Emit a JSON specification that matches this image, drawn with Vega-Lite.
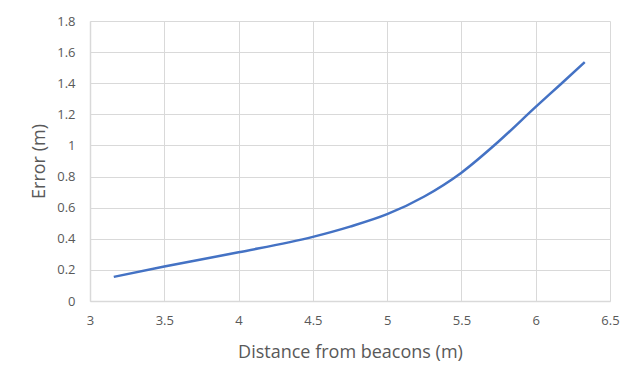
{
  "$schema": "https://vega.github.io/schema/vega-lite/v6.json",
  "width": 520,
  "height": 280,
  "autosize": {"type": "none"},
  "padding": {"left": 90, "top": 21, "right": 30, "bottom": 84},
  "background": "white",
  "config": {
    "view": {"stroke": null},
    "font": "Open Sans",
    "axis": {
      "gridColor": "#d9d9d9",
      "gridWidth": 1,
      "domainColor": "#d9d9d9",
      "domainWidth": 1.5,
      "ticks": false,
      "labelColor": "#595959",
      "labelFontSize": 13,
      "labelFont": "Open Sans",
      "titleColor": "#595959",
      "titleFontSize": 18,
      "titleFontWeight": "normal",
      "titleFont": "Open Sans"
    }
  },
  "data": {
    "values": [
      {"d": 3.16, "e": 0.155},
      {"d": 3.5, "e": 0.222},
      {"d": 4.0, "e": 0.313},
      {"d": 4.5, "e": 0.412},
      {"d": 4.75, "e": 0.478},
      {"d": 5.0, "e": 0.558},
      {"d": 5.25, "e": 0.672},
      {"d": 5.5, "e": 0.825},
      {"d": 5.75, "e": 1.025},
      {"d": 6.0, "e": 1.248},
      {"d": 6.17, "e": 1.395},
      {"d": 6.33, "e": 1.536}
    ]
  },
  "mark": {"type": "line", "color": "#4472C4", "strokeWidth": 2.5, "interpolate": "monotone"},
  "encoding": {
    "x": {
      "field": "d", "type": "quantitative",
      "scale": {"domain": [3, 6.5], "nice": false, "zero": false},
      "axis": {"values": [3, 3.5, 4, 4.5, 5, 5.5, 6, 6.5], "format": "~g", "title": "Distance from beacons (m)", "labelPadding": 13, "titlePadding": 16, "labelFlush": false}
    },
    "y": {
      "field": "e", "type": "quantitative",
      "scale": {"domain": [0, 1.8], "nice": false},
      "axis": {"values": [0, 0.2, 0.4, 0.6, 0.8, 1, 1.2, 1.4, 1.6, 1.8], "format": "~g", "title": "Error (m)", "labelPadding": 15, "titlePadding": 8, "labelFlush": false}
    }
  }
}
